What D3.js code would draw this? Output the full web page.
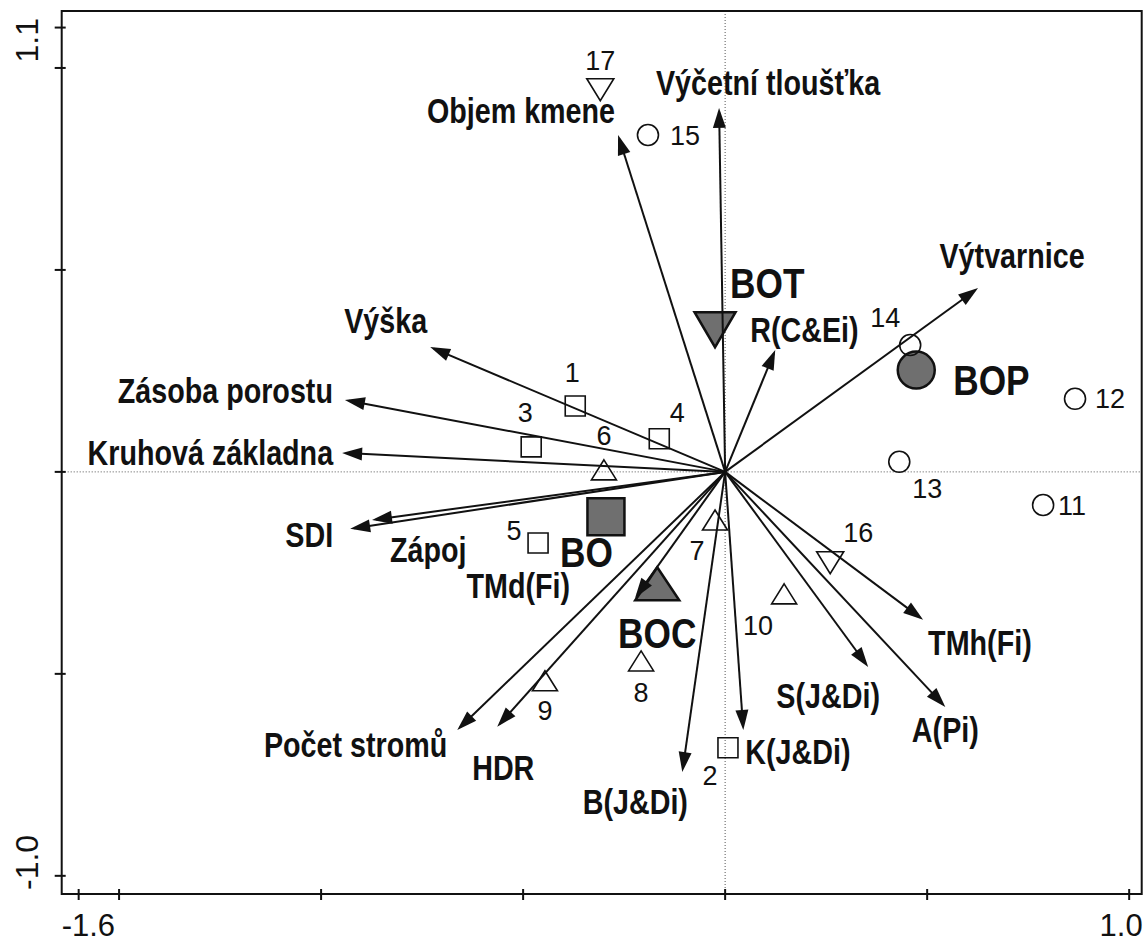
<!DOCTYPE html>
<html>
<head>
<meta charset="utf-8">
<script src="https://cdn.jsdelivr.net/npm/d3@7"></script>
<style>
  html, body { margin: 0; padding: 0; background: white; }
  svg { display: block; }
</style>
</head>
<body>
<svg id="chart"></svg>
<script>
// ordination biplot (CANOCO style) - env. variables as arrows, plots as symbols

// axis ticks and labels
var xTicks = [-1.6, -1.5, -1.0, -0.5, 0, 0.5, 1.0];
var yTicks = [-1.0, -0.5, 0, 0.5, 1.0, 1.1];
var xTickLabels = ["-1.6", "1.0"];
var yTickLabels = ["-1.0", "1.1"];

// environmental variables (arrow tips)
var envNames = ["Výčetní tloušťka", "Objem kmene", "Výtvarnice", "R(C&Ei)", "Výška",
    "Zásoba porostu", "Kruhová základna", "SDI", "Zápoj", "TMd(Fi)", "Počet stromů",
    "HDR", "B(J&Di)", "K(J&Di)", "S(J&Di)", "A(Pi)", "TMh(Fi)"];
var envX = [-0.015, -0.265, 0.626, 0.124, -0.730, -0.941, -0.948, -0.928, -0.874, -0.223,
    -0.663, -0.564, -0.106, 0.045, 0.354, 0.545, 0.490];
var envY = [0.901, 0.834, 0.455, 0.302, 0.309, 0.178, 0.047, -0.141, -0.119, -0.312,
    -0.639, -0.631, -0.743, -0.639, -0.483, -0.582, -0.366];

// sample plots
var siteIds = ["1", "2", "3", "4", "5", "6", "7", "8", "9", "10", "11", "12", "13", "14", "15", "16", "17"];
var siteGroups = ["BO", "BO", "BO", "BO", "BO", "BOC", "BOC", "BOC", "BOC", "BOC",
    "BOP", "BOP", "BOP", "BOP", "BOP", "BOT", "BOT"];
var siteX = [-0.371, 0.007, -0.480, -0.163, -0.463, -0.300, -0.025, -0.208, -0.446, 0.146,
    0.787, 0.866, 0.431, 0.458, -0.191, 0.260, -0.309];
var siteY = [0.163, -0.683, 0.062, 0.082, -0.176, 0.005, -0.119, -0.468, -0.517, -0.302,
    -0.082, 0.181, 0.025, 0.314, 0.834, -0.225, 0.946];

// group centroids
var groupNames = ["BO", "BOC", "BOT", "BOP"];
var groupX = [-0.295, -0.168, -0.025, 0.473];
var groupY = [-0.111, -0.277, 0.352, 0.252];

// label placement (pixel offsets from the point, anchor)
var envLabelPos = {
    "Výčetní tloušťka": [49, -13, "middle"], "Objem kmene": [-3, -12, "end"],
    "Výtvarnice": [34, -20, "middle"], "R(C&Ei)": [-25, -8, "start"],
    "Výška": [-3, -14, "end"], "Zásoba porostu": [-12, 3, "end"],
    "Kruhová základna": [-9, 12, "end"], "SDI": [-17, 18, "end"],
    "Zápoj": [18, 42, "start"], "TMd(Fi)": [-65, 0, "end"],
    "Počet stromů": [-10, 27, "end"], "HDR": [6, 53, "middle"],
    "B(J&Di)": [-47, 42, "middle"], "K(J&Di)": [2, 34, "start"],
    "S(J&Di)": [-40, 41, "middle"], "A(Pi)": [0, 35, "middle"], "TMh(Fi)": [5, 35, "start"]
};
var siteLabelPos = {
    "1": [-3, -24, "middle"], "2": [-18, 37, "middle"], "3": [-6, -25, "middle"],
    "4": [18, -17, "middle"], "5": [-24, -3, "middle"], "6": [0, -25, "middle"],
    "7": [-18, 40, "middle"], "8": [0, 41, "middle"], "9": [0, 39, "middle"],
    "10": [-26, 41, "middle"], "11": [15, 10, "start"], "12": [20, 9, "start"],
    "13": [28, 36, "middle"], "14": [-25, -18, "middle"], "15": [22, 10, "start"],
    "16": [28, -21, "middle"], "17": [0, -20, "middle"]
};
var groupLabelPos = {
    "BO": [-46, 50, "start"], "BOC": [0, 64, "middle"],
    "BOT": [15, -32, "start"], "BOP": [37, 25, "start"]
};

var dimensions = { width: 1148, height: 943 };
var frame = { left: 61.7, right: 1141.7, top: 11, bottom: 894 };

var svg = d3.select("#chart")
    .attr("width", dimensions.width)
    .attr("height", dimensions.height);

var xScale = d3.scaleLinear().domain([-1.642, 1.031]).range([frame.left, frame.right]);
var yScale = d3.scaleLinear().domain([-1.045, 1.141]).range([frame.bottom, frame.top]);

// narrow font check
function hasFont(name) {
    var ctx = document.createElement("canvas").getContext("2d");
    var s = "abcdefghij KLMNOP 0123";
    ctx.font = "40px monospace";
    var a = ctx.measureText(s).width;
    ctx.font = "40px '" + name + "', monospace";
    return ctx.measureText(s).width !== a;
}
var narrowOk = hasFont("Liberation Sans Narrow");
var narrowFamily = narrowOk ? "'Liberation Sans Narrow', 'Liberation Sans', Arial, sans-serif"
    : "'Liberation Sans', Arial, sans-serif";
var squeeze = narrowOk ? 1 : 0.82;
var plainFont = "'Liberation Sans', Arial, sans-serif";

function narrowText(g, x, y, txt, anchor, size, weight) {
    g.append("text")
        .attr("transform", `translate(${x},${y}) scale(${squeeze},1)`)
        .attr("text-anchor", anchor)
        .style("font-family", narrowFamily)
        .style("font-size", size + "px")
        .style("font-weight", weight)
        .style("fill", "#111")
        .text(txt);
}

// shapes centered at 0
function shapePath(kind, w, h) {
    if (kind === "BO") return `M${-w / 2},${-w / 2}H${w / 2}V${w / 2}H${-w / 2}Z`;
    if (kind === "BOC") return `M0,${-h / 2}L${w / 2},${h / 2}L${-w / 2},${h / 2}Z`;
    if (kind === "BOT") return `M${-w / 2},${-h / 2}L${w / 2},${-h / 2}L0,${h / 2}Z`;
    return null;
}

var x0 = xScale(0), y0 = yScale(0);

// dotted zero lines
svg.append("line")
    .attr("x1", frame.left).attr("x2", frame.right)
    .attr("y1", y0).attr("y2", y0)
    .attr("stroke", "#555").attr("stroke-width", 1).attr("stroke-dasharray", "1,2");
svg.append("line")
    .attr("x1", x0).attr("x2", x0)
    .attr("y1", frame.top).attr("y2", frame.bottom)
    .attr("stroke", "#555").attr("stroke-width", 1).attr("stroke-dasharray", "1,2");

// group centroids
var centroidSize = { BO: [37, 37], BOC: [44, 33], BOT: [41, 35] };
groupNames.forEach(function (g, i) {
    var cx = xScale(groupX[i]), cy = yScale(groupY[i]);
    if (g === "BOP") {
        svg.append("circle").attr("cx", cx).attr("cy", cy).attr("r", 18.5)
            .attr("fill", "#6f6f6f").attr("stroke", "#111").attr("stroke-width", 2.5);
    } else {
        svg.append("path")
            .attr("transform", `translate(${cx},${cy})`)
            .attr("d", shapePath(g, centroidSize[g][0], centroidSize[g][1]))
            .attr("fill", "#6f6f6f").attr("stroke", "#111").attr("stroke-width", 2.5)
            .attr("stroke-linejoin", "miter");
    }
});

// sample plot symbols
var siteSize = { BO: [20, 20], BOC: [25, 20], BOT: [27, 22] };
siteIds.forEach(function (id, i) {
    var g = siteGroups[i];
    var cx = xScale(siteX[i]), cy = yScale(siteY[i]);
    if (g === "BOP") {
        svg.append("circle").attr("cx", cx).attr("cy", cy).attr("r", 10.5)
            .attr("fill", "none").attr("stroke", "#111").attr("stroke-width", 1.6);
    } else {
        svg.append("path")
            .attr("transform", `translate(${cx},${cy})`)
            .attr("d", shapePath(g, siteSize[g][0], siteSize[g][1]))
            .attr("fill", "none").attr("stroke", "#111").attr("stroke-width", 1.6);
    }
});

// arrows
var headLen = 20, headHalf = 6.5;
envNames.forEach(function (name, i) {
    var tx = xScale(envX[i]), ty = yScale(envY[i]);
    var dx = tx - x0, dy = ty - y0;
    var len = Math.sqrt(dx * dx + dy * dy);
    var ux = dx / len, uy = dy / len;
    var bx = tx - ux * headLen, by = ty - uy * headLen;
    svg.append("line")
        .attr("x1", x0).attr("y1", y0)
        .attr("x2", tx - ux * 4).attr("y2", ty - uy * 4)
        .attr("stroke", "#111").attr("stroke-width", 2);
    svg.append("path")
        .attr("d", `M${tx},${ty}L${bx - uy * headHalf},${by + ux * headHalf}L${bx + uy * headHalf},${by - ux * headHalf}Z`)
        .attr("fill", "#111");
});

// labels
var labels = svg.append("g");
envNames.forEach(function (name, i) {
    var p = envLabelPos[name];
    narrowText(labels, xScale(envX[i]) + p[0], yScale(envY[i]) + p[1], name, p[2], 35, "bold");
});
siteIds.forEach(function (id, i) {
    var p = siteLabelPos[id];
    labels.append("text")
        .attr("x", xScale(siteX[i]) + p[0])
        .attr("y", yScale(siteY[i]) + p[1])
        .attr("text-anchor", p[2])
        .style("font-family", plainFont)
        .style("font-size", "27px")
        .style("fill", "#111")
        .text(id);
});
groupNames.forEach(function (g, i) {
    var p = groupLabelPos[g];
    narrowText(labels, xScale(groupX[i]) + p[0], yScale(groupY[i]) + p[1], g, p[2], 43, "bold");
});

// frame
svg.append("rect")
    .attr("x", frame.left).attr("y", frame.top)
    .attr("width", frame.right - frame.left).attr("height", frame.bottom - frame.top)
    .attr("fill", "none").attr("stroke", "#111").attr("stroke-width", 2);

// ticks
svg.selectAll(".xtick").data(xTicks).enter().append("line")
    .attr("class", "xtick")
    .attr("x1", d => xScale(d)).attr("x2", d => xScale(d))
    .attr("y1", frame.bottom - 5).attr("y2", frame.bottom + 6)
    .attr("stroke", "#111").attr("stroke-width", 2);
svg.selectAll(".ytick").data(yTicks).enter().append("line")
    .attr("class", "ytick")
    .attr("x1", frame.left - 7).attr("x2", frame.left + 4)
    .attr("y1", d => yScale(d)).attr("y2", d => yScale(d))
    .attr("stroke", "#111").attr("stroke-width", 2);

// tick labels at the frame ends
svg.append("text")
    .attr("x", frame.left).attr("y", 936)
    .attr("text-anchor", "start")
    .style("font-family", plainFont).style("font-size", "31px").style("fill", "#111")
    .text(xTickLabels[0]);
svg.append("text")
    .attr("x", frame.right + 1).attr("y", 936)
    .attr("text-anchor", "end")
    .style("font-family", plainFont).style("font-size", "31px").style("fill", "#111")
    .text(xTickLabels[1]);
svg.append("text")
    .attr("transform", `translate(38,${frame.bottom - 4}) rotate(-90)`)
    .attr("text-anchor", "start")
    .style("font-family", plainFont).style("font-size", "32px").style("fill", "#111")
    .text(yTickLabels[0]);
svg.append("text")
    .attr("transform", `translate(38,${frame.top + 7}) rotate(-90)`)
    .attr("text-anchor", "end")
    .style("font-family", plainFont).style("font-size", "32px").style("fill", "#111")
    .text(yTickLabels[1]);
</script>
</body>
</html>
